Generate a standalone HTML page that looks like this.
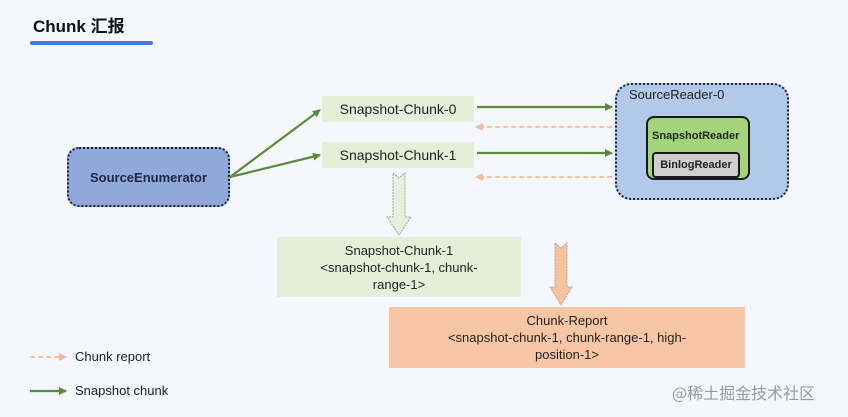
<!DOCTYPE html>
<html><head><meta charset="utf-8"><style>
body{margin:0;width:848px;height:417px;background:#f4f7fb;position:relative;overflow:hidden;font-family:"Liberation Sans","Noto Sans CJK SC",sans-serif;}
.a{position:absolute;box-sizing:border-box;}
.t{display:flex;align-items:center;justify-content:center;text-align:center;color:#222;}
</style></head><body>
<div class="a" style="left:33px;top:12px;font-size:17px;font-weight:bold;color:#111;">Chunk 汇报</div>
<div class="a" style="left:30px;top:41px;width:123px;height:4px;background:#3d7be0;border-radius:2px;"></div>

<div class="a t" style="left:67px;top:147px;width:163px;height:60px;background:#8fa9dc;border:2px dotted #1a2236;border-radius:12px;font-size:13px;font-weight:bold;color:#1c2740;">SourceEnumerator</div>

<div class="a t" style="left:322px;top:96px;width:152px;height:26px;background:#e3efd9;font-size:14px;">Snapshot-Chunk-0</div>
<div class="a t" style="left:322px;top:142px;width:152px;height:26px;background:#e3efd9;font-size:14px;">Snapshot-Chunk-1</div>

<div class="a" style="left:615px;top:83px;width:174px;height:117px;background:#b3c9ea;border:2px dotted #1a2236;border-radius:16px;"></div>
<div class="a" style="left:629px;top:87px;font-size:13px;color:#222;">SourceReader-0</div>
<div class="a" style="left:646px;top:116px;width:104px;height:64px;background:#a3d47d;border:2px solid #1a1a1a;border-radius:8px;"></div>
<div class="a" style="left:652px;top:130px;font-size:11px;font-weight:bold;color:#1c2a14;">SnapshotReader</div>
<div class="a t" style="left:652px;top:152px;width:88px;height:26px;background:#cfcfcf;border:2px solid #1a1a1a;border-radius:4px;font-size:11px;font-weight:bold;">BinlogReader</div>

<div class="a t" style="left:277px;top:237px;width:244px;height:60px;background:#e3efd9;font-size:13px;line-height:17px;flex-direction:column;">Snapshot-Chunk-1<br>&lt;snapshot-chunk-1, chunk-<br>range-1&gt;</div>
<div class="a t" style="left:389px;top:307px;width:356px;height:61px;background:#f8c6a4;font-size:13px;line-height:17px;flex-direction:column;">Chunk-Report<br>&lt;snapshot-chunk-1, chunk-range-1, high-<br>position-1&gt;</div>

<div class="a" style="left:75px;top:349px;font-size:13px;color:#222;">Chunk report</div>
<div class="a" style="left:75px;top:383px;font-size:13px;color:#222;">Snapshot chunk</div>
<div class="a" style="left:672px;top:380px;font-size:16px;color:#999;font-family:'Noto Sans CJK SC',sans-serif;">@稀土掘金技术社区</div>

<svg class="a" style="left:0;top:0" width="848" height="417">
<defs>
<marker id="g" markerWidth="8" markerHeight="8" refX="7" refY="4" orient="auto" markerUnits="userSpaceOnUse"><path d="M0,0 L8,4 L0,8z" fill="#5a8a3a"/></marker>
<marker id="o" markerWidth="8" markerHeight="8" refX="7" refY="4" orient="auto" markerUnits="userSpaceOnUse"><path d="M0,0 L8,4 L0,8z" fill="#f5b89a"/></marker>
</defs>
<g stroke="#5a8a3a" stroke-width="2.2" fill="none">
<line x1="230" y1="177" x2="320" y2="110" marker-end="url(#g)"/>
<line x1="230" y1="177" x2="320" y2="155" marker-end="url(#g)"/>
<line x1="477" y1="107" x2="612" y2="107" marker-end="url(#g)"/>
<line x1="477" y1="153" x2="612" y2="153" marker-end="url(#g)"/>
<line x1="30" y1="391" x2="66" y2="391" marker-end="url(#g)"/>
</g>
<g stroke="#f5b89a" stroke-width="1.8" fill="none" stroke-dasharray="5,3">
<line x1="612" y1="127" x2="476" y2="127" marker-end="url(#o)"/>
<line x1="612" y1="177" x2="476" y2="177" marker-end="url(#o)"/>
<line x1="30" y1="357" x2="66" y2="357" marker-end="url(#o)"/>
</g>
<path d="M393,173 L399,178 L405,173 L405,217 L411,217 L399,235 L387,217 L393,217 Z" fill="#e6f0dc" stroke="#9aa7a0" stroke-width="1" stroke-dasharray="2,1"/>
<path d="M555,243 L561,248 L567,243 L567,287 L572,287 L561,305 L550,287 L555,287 Z" fill="#f6c3a0" stroke="#b6a49a" stroke-width="1" stroke-dasharray="2,1"/>
</svg>
</body></html>
